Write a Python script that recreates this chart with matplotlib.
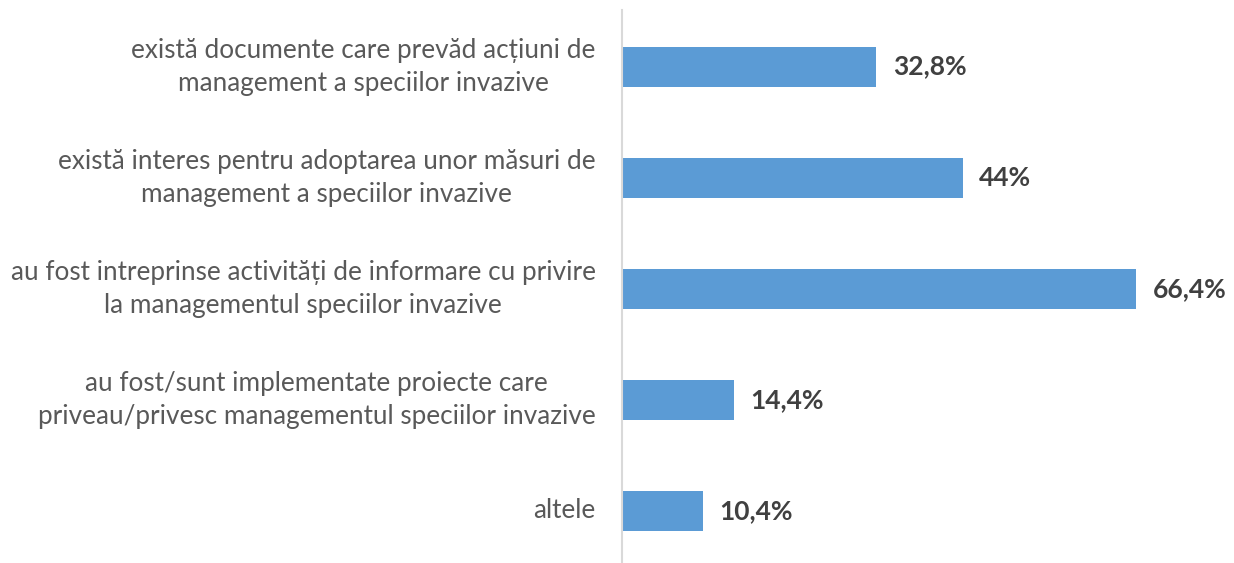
import matplotlib.pyplot as plt

categories = [
    "există documente care prevăd acțiuni de\nmanagement a speciilor invazive",
    "există interes pentru adoptarea unor măsuri de\nmanagement a speciilor invazive",
    "au fost intreprinse activități de informare cu privire\nla managementul speciilor invazive",
    "au fost/sunt implementate proiecte care\npriveau/privesc managementul speciilor invazive",
    "altele",
]
values = [32.8, 44.0, 66.4, 14.4, 10.4]
value_labels = ["32,8%", "44%", "66,4%", "14,4%", "10,4%"]

plt.rcParams["font.family"] = ["Lato", "DejaVu Sans"]

fig = plt.figure(figsize=(12.34, 5.63), dpi=100)
ax = fig.add_axes([622 / 1234, 0.0, 604 / 1234, 553 / 563])

ypos = list(range(len(values)))
ax.barh(ypos, values, height=0.36, color="#5B9BD5")
ax.set_xlim(0, 78)
ax.set_ylim(4.468, -0.509)

# value labels, bold, just right of each bar
for y, v, lab in zip(ypos, values, value_labels):
    ax.annotate(lab, (v, y), xytext=(12, 0), textcoords="offset points",
                ha="left", va="center", fontsize=19, fontweight="bold",
                color="#404040")

# category labels on the left of the axis
for y, cat in zip(ypos, categories):
    ax.annotate(cat, (0, y), xytext=(-19, 0), textcoords="offset points",
                ha="right", va="center", multialignment="center",
                fontsize=18.8, color="#595959", linespacing=1.4)

ax.set_xticks([])
ax.set_yticks([])
for s in ["top", "right", "bottom"]:
    ax.spines[s].set_visible(False)
ax.spines["left"].set_color("#D9D9D9")
ax.spines["left"].set_linewidth(1.5)

fig.savefig("out.png", dpi=100)
